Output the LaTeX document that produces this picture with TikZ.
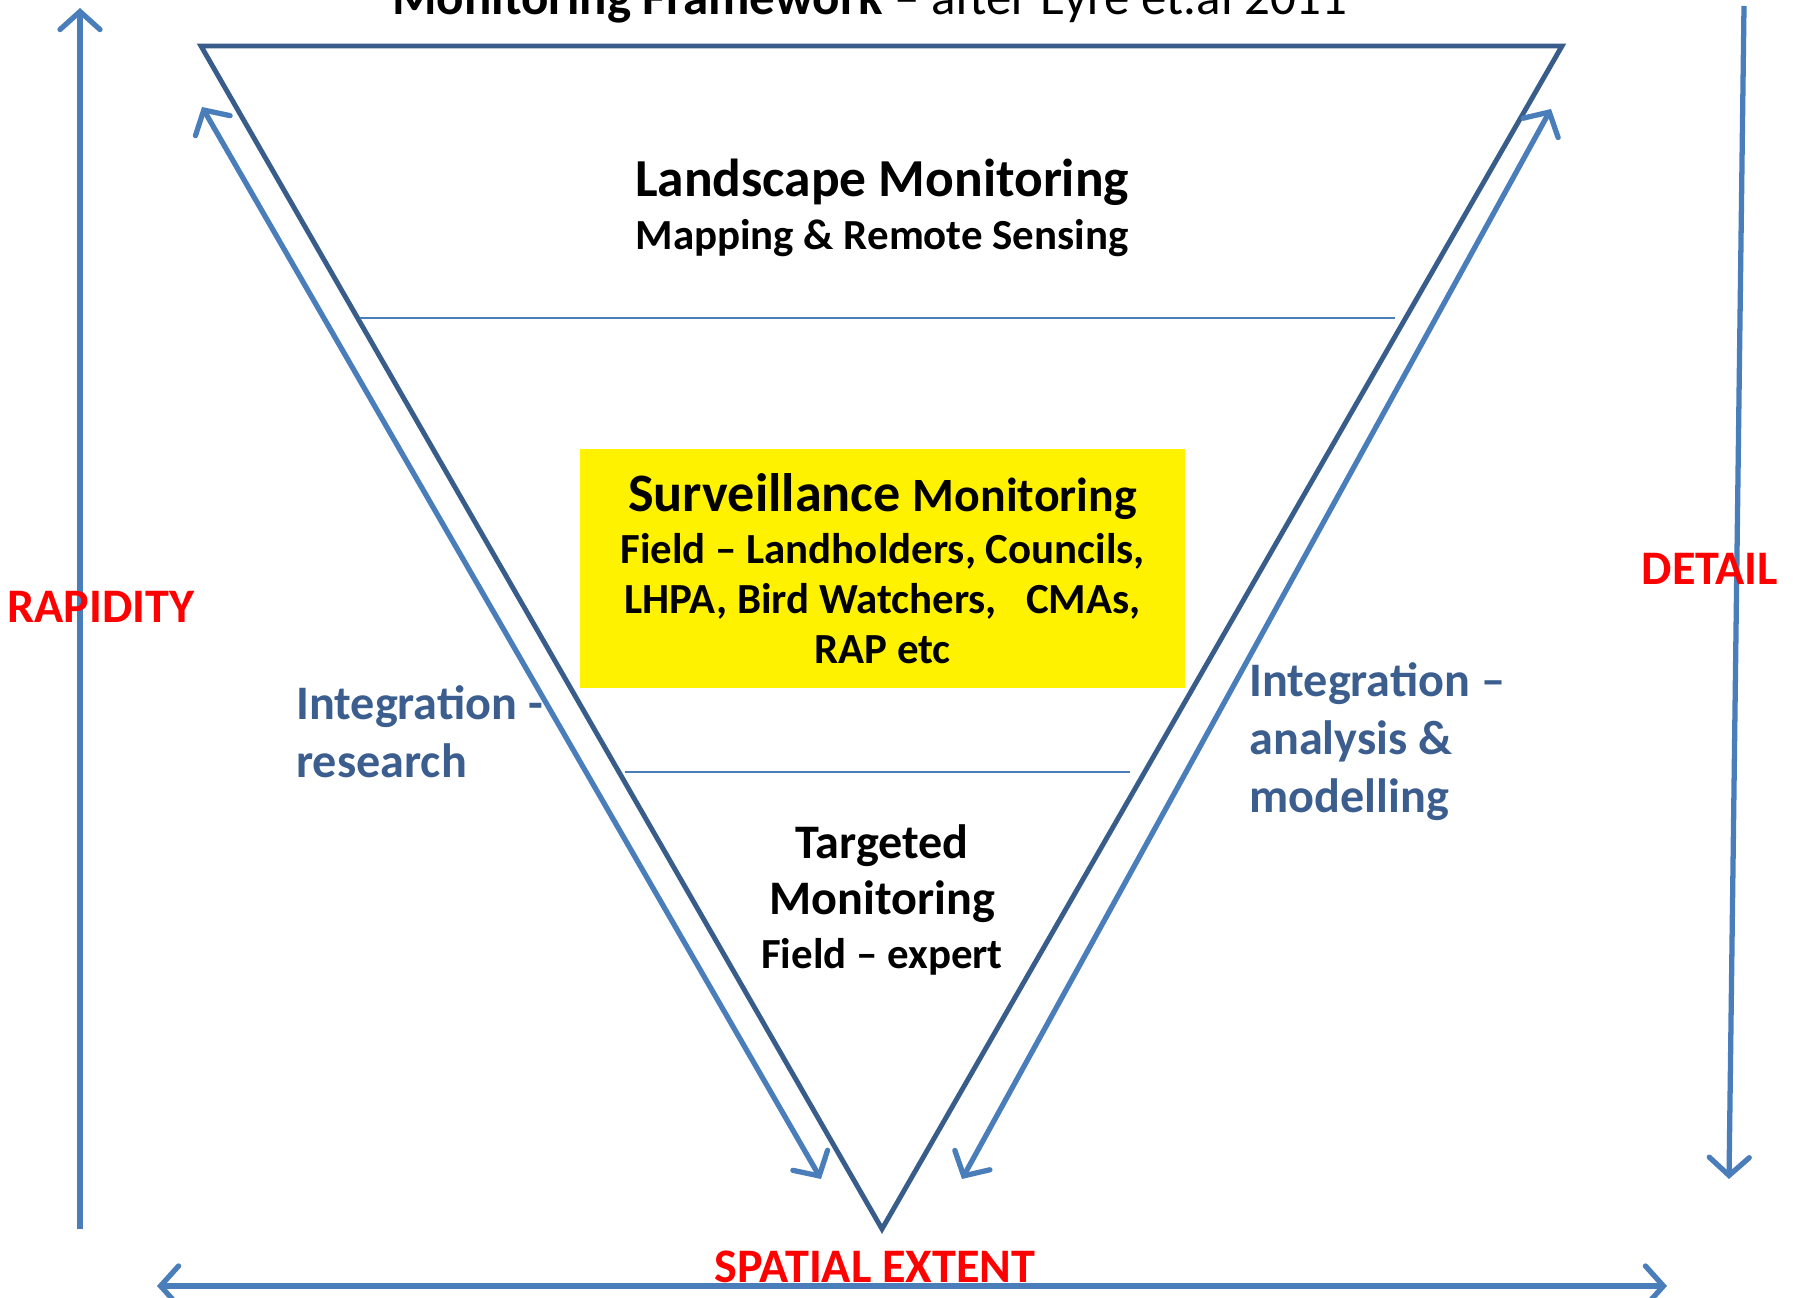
\documentclass[tikz,border=0pt]{standalone}
\usepackage{fontspec}
\setmainfont{Carlito}
\usepackage{tikz}
\usetikzlibrary{arrows.meta,positioning}
\definecolor{frameblue}{HTML}{385D8A}
\definecolor{arrowblue}{HTML}{4A7EBB}
\definecolor{textblue}{HTML}{3B5E8F}
\newcommand{\fsz}[2]{\fontsize{#1}{#2}\selectfont}

\begin{document}
\begin{tikzpicture}[x=0.01cm,y=-0.01cm,
                    >={Straight Barb[length=1.8mm,width=4mm,line cap=round]},
                    frame line/.style={draw=frameblue,line width=1.4pt},
                    flow arrow/.style={draw=arrowblue,line width=1.5pt},
                    level line/.style={draw=arrowblue,line width=0.5pt},
                    level text/.style={font=\bfseries\fsz{12.2}{16},align=center},
                    side text/.style={font=\bfseries\fsz{13.7}{16.5},text=textblue,align=left,anchor=north west},
                    axis text/.style={font=\bfseries\fsz{13.7}{17},text=red}]

  \useasboundingbox (0,0) rectangle (1793,1298);

  % triangle
  \coordinate (tl) at (201,46);
  \coordinate (tr) at (1562,46);
  \coordinate (bot) at (882,1229);
  \draw[frame line] (tl) -- (tr) -- (bot) -- cycle;

  % level borders
  \coordinate (upL) at (360,318);
  \coordinate (upR) at (1395,318);
  \coordinate (loL) at (625,772);
  \coordinate (loR) at (1130,772);
  \draw[level line] (upL) -- (upR);
  \draw[level line] (loL) -- (loR);

  \node[anchor=base] (title) at (870,15)
    {\fsz{14.5}{18}\textbf{Monitoring Framework –} after Eyre et.al 2011};

  \node[level text] (landscape) at (882,208)
    {\fsz{15.2}{17}Landscape Monitoring\\[-1pt]Mapping \& Remote Sensing};

  \node[fill=yellow,minimum width=6.05cm,minimum height=2.39cm,level text,
        font=\bfseries\fsz{12.2}{14.2}] (surveil) at (882.5,568.5)
    {\fsz{15.4}{18}Surveillance \fsz{13.6}{18}Monitoring\\[0.5pt]
     Field – Landholders, Councils,\\
     LHPA, Bird Watchers,\ \ \ CMAs,\\
     RAP etc};

  \node[level text] (targeted) at (882,900)
    {\fsz{13.7}{16.5}Targeted\\\fsz{13.7}{16.5}Monitoring\\[-0.5pt]Field – expert};

  \node[side text] (research) at (284,673) {Integration -\\research};
  \node[side text] (analysis) at (1237,650) {Integration –\\analysis \&\\modelling};

  % axes
  \coordinate (rapB) at (80,1229);
  \coordinate (rapT) at (80,8);
  \coordinate (detT) at (1744,6);
  \coordinate (detB) at (1729,1179);
  \coordinate (extL) at (157,1286);
  \coordinate (extR) at (1667,1286);
  \draw[flow arrow,->] (rapB) -- (rapT);
  \draw[flow arrow,->] (detT) -- (detB);
  \draw[flow arrow,<->] (extL) -- (extR);

  % integration arrows
  \coordinate (resB) at (821,1179);
  \coordinate (resT) at (202,107);
  \coordinate (anaB) at (962,1179);
  \coordinate (anaT) at (1551,109);
  \draw[flow arrow,<->] (resB) -- (resT);
  \draw[flow arrow,<->] (anaB) -- (anaT);

  \node[axis text] (rapidity) at (101,607) {RAPIDITY};
  \node[axis text] (detail) at (1710,569) {DETAIL};
  \node[axis text] (extent) at (875,1267) {SPATIAL EXTENT};
\end{tikzpicture}
\end{document}
